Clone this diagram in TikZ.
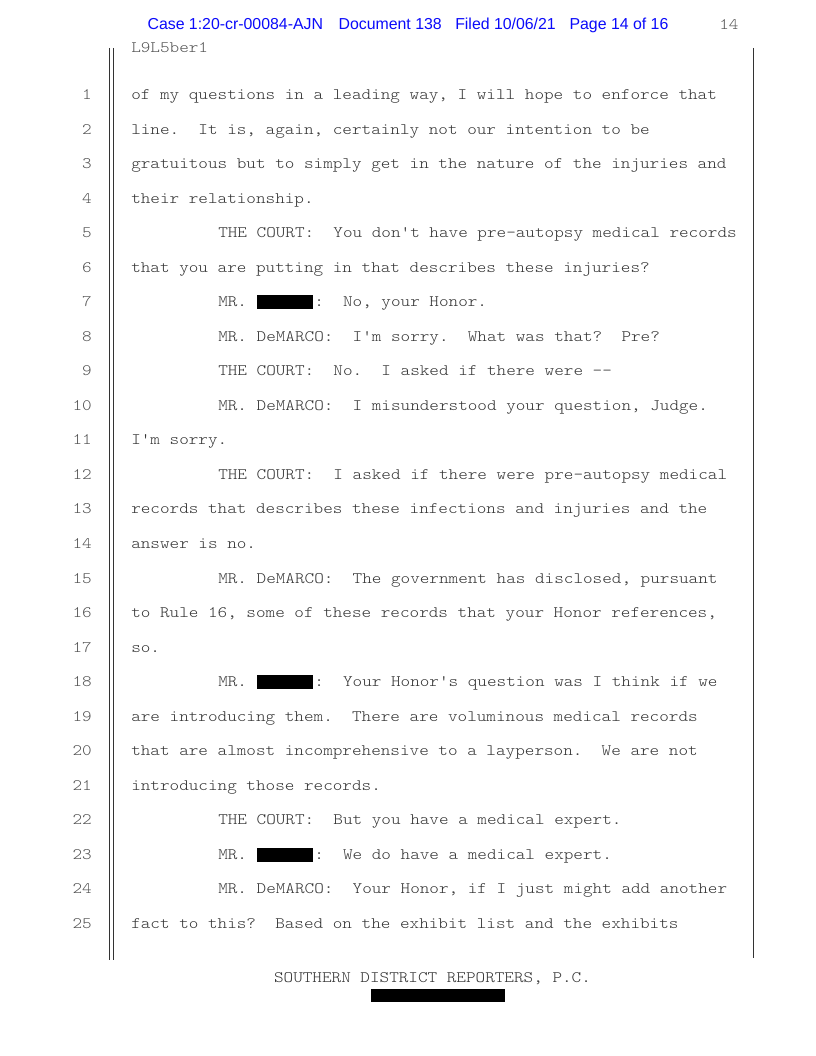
\documentclass[tikz,border=0pt]{standalone}
\usepackage{fontspec}
\setmonofont[FakeStretch=1.143]{Latin Modern Mono Light}
\newfontfamily\headfont{Liberation Sans}
\usetikzlibrary{positioning}
\definecolor{ink}{gray}{0.2}
\definecolor{numink}{gray}{0.32}
\definecolor{stamp}{RGB}{10,10,250}
% baseline of transcript line #1
\newcommand{\row}[1]{99.5+34.54*(#1-1)}
\newcommand{\blackout}{\makebox[43.2pt][l]{\color{black}\rule[-2pt]{42.6pt}{10.8pt}}}

\begin{document}
\begin{tikzpicture}[x=0.75pt,y=-0.75pt,
    txt/.style={anchor=base west,inner sep=0pt,font=\ttfamily\fontsize{12}{14}\selectfont\frenchspacing,text=ink},
    lnum/.style={anchor=base east,inner sep=0pt,font=\ttfamily\fontsize{12}{14}\selectfont,text=numink},
    head/.style={anchor=base west,inner sep=0pt,font=\headfont\fontsize{11.9}{14}\selectfont,text=stamp},
    rule/.style={line width=0.75pt,draw=black!80}]
    \useasboundingbox (0,0) rectangle (816,1056);

    % filing stamp
    \node[head] (case) at (147.3,30) {Case 1:20-cr-00084-AJN};
    \node[head] (doc)  at (338.3,30) {Document 138};
    \node[head] (fil)  at (455,30)   {Filed 10/06/21};
    \node[head] (pg)   at (569.3,30) {Page 14 of 16};
    \node[lnum,anchor=base west] (pno) at (719,30) {14};
    \node[txt,text=numink] (job) at (131,52.7) {L9L5ber1};

    % margins
    \coordinate (lt) at (109.5,48);
    \coordinate (lb) at (109.5,960);
    \coordinate (mt) at (113.5,48);
    \coordinate (mb) at (113.5,960);
    \coordinate (rt) at (753,48);
    \coordinate (rb) at (753,958);
    \draw[rule] (lt) -- (lb);
    \draw[rule] (mt) -- (mb);
    \draw[rule] (rt) -- (rb);

    % line numbers
    \foreach \i in {1,...,25}
        \node[lnum] (n\i) at (92,{\row{\i}}) {\i};

    % transcript
    \node[txt] (l1)  at (131,{\row{1}})  {of my questions in a leading way, I will hope to enforce that};
    \node[txt] (l2)  at (131,{\row{2}})  {line.~ It is, again, certainly not our intention to be};
    \node[txt] (l3)  at (131,{\row{3}})  {gratuitous but to simply get in the nature of the injuries and};
    \node[txt] (l4)  at (131,{\row{4}})  {their relationship.};
    \node[txt] (l5)  at (218,{\row{5}})  {THE COURT:~ You don't have pre-autopsy medical records};
    \node[txt] (l6)  at (131,{\row{6}})  {that you are putting in that describes these injuries?};
    \node[txt] (l7)  at (218,{\row{7}})  {MR. \blackout:~ No, your Honor.};
    \node[txt] (l8)  at (218,{\row{8}})  {MR. DeMARCO:~ I'm sorry.~ What was that?~ Pre?};
    \node[txt] (l9)  at (218,{\row{9}})  {THE COURT:~ No.~ I asked if there were --};
    \node[txt] (l10) at (218,{\row{10}}) {MR. DeMARCO:~ I misunderstood your question, Judge.};
    \node[txt] (l11) at (131,{\row{11}}) {I'm sorry.};
    \node[txt] (l12) at (218,{\row{12}}) {THE COURT:~ I asked if there were pre-autopsy medical};
    \node[txt] (l13) at (131,{\row{13}}) {records that describes these infections and injuries and the};
    \node[txt] (l14) at (131,{\row{14}}) {answer is no.};
    \node[txt] (l15) at (218,{\row{15}}) {MR. DeMARCO:~ The government has disclosed, pursuant};
    \node[txt] (l16) at (131,{\row{16}}) {to Rule 16, some of these records that your Honor references,};
    \node[txt] (l17) at (131,{\row{17}}) {so.};
    \node[txt] (l18) at (218,{\row{18}}) {MR. \blackout:~ Your Honor's question was I think if we};
    \node[txt] (l19) at (131,{\row{19}}) {are introducing them.~ There are voluminous medical records};
    \node[txt] (l20) at (131,{\row{20}}) {that are almost incomprehensive to a layperson.~ We are not};
    \node[txt] (l21) at (131,{\row{21}}) {introducing those records.};
    \node[txt] (l22) at (218,{\row{22}}) {THE COURT:~ But you have a medical expert.};
    \node[txt] (l23) at (218,{\row{23}}) {MR. \blackout:~ We do have a medical expert.};
    \node[txt] (l24) at (218,{\row{24}}) {MR. DeMARCO:~ Your Honor, if I just might add another};
    \node[txt] (l25) at (131,{\row{25}}) {fact to this?~ Based on the exhibit list and the exhibits};

    % footer
    \node[txt,anchor=base] (rep) at (432.5,982.5) {SOUTHERN DISTRICT REPORTERS, P.C.};
    \node[fill=black,inner sep=0pt,minimum width=101pt,minimum height=9.5pt] (tel) at (438,995.5) {};
\end{tikzpicture}
\end{document}
